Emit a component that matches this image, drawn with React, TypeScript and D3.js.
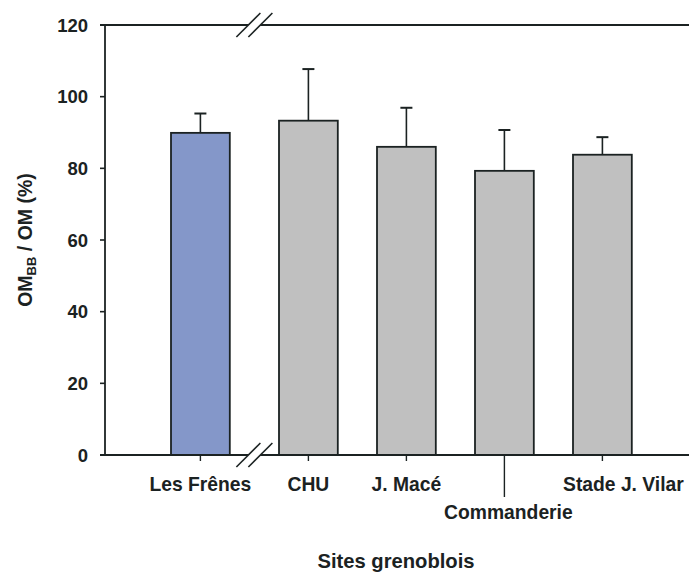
import React from "react";
import * as d3 from "d3";

const categories = ["Les Frênes", "CHU", "J. Macé", "Commanderie", "Stade J. Vilar"];
const means = [89.9, 93.3, 86.0, 79.3, 83.8];
const errors = [5.4, 14.4, 10.9, 11.4, 4.9];
const barColors = ["#8497c9", "#c0c0c0", "#c0c0c0", "#c0c0c0", "#c0c0c0"];
const yTicks = [0, 20, 40, 60, 80, 100, 120];

const W = 689;
const H = 572;
const left = 105;
const right = 689;
const top = 25;
const bottom = 455;
const breakGap = 10;
const font = "'Liberation Sans', Arial, sans-serif";
const ink = "#1b2222";

export default function App() {
  const y = d3.scaleLinear().domain([0, 120]).range([bottom, top]);
  const band = d3
    .scaleBand<string>()
    .domain(categories)
    .range([151.4, 151.4 + 490])
    .paddingInner(0.4)
    .paddingOuter(0.2);
  const bx = (c: string, i: number) => (band(c) as number) + (i >= 1 ? breakGap : 0);
  const bw = band.bandwidth();
  const cx = (c: string, i: number) => bx(c, i) + bw / 2;

  const brk = (bx(categories[0], 0) + bw + bx(categories[1], 1)) / 2;

  const labelDy = (i: number) => (categories[i] === "Commanderie" ? 64 : 36);
  const labelDx = (i: number) => (categories[i] === "Stade J. Vilar" ? 21 : categories[i] === "Commanderie" ? 4 : 0);

  const slash = (x: number, yy: number, off: number) => (
    <line x1={x - 12 + off} y1={yy + 12} x2={x + 12 + off} y2={yy - 12} stroke={ink} strokeWidth={1.6} />
  );

  return (
    <svg width={W} height={H} style={{ position: "absolute", left: 0, top: 0, background: "#fff" }}>
      {categories.map((c, i) => (
        <g key={c}>
          <line x1={cx(c, i)} x2={cx(c, i)} y1={y(means[i])} y2={y(means[i] + errors[i])} stroke={ink} strokeWidth={1.6} />
          <line x1={cx(c, i) - 6} x2={cx(c, i) + 6} y1={y(means[i] + errors[i])} y2={y(means[i] + errors[i])} stroke={ink} strokeWidth={2} />
          <rect x={bx(c, i)} y={y(means[i])} width={bw} height={bottom - y(means[i])} fill={barColors[i]} stroke={ink} strokeWidth={1.8} />
        </g>
      ))}
      <line x1={left} x2={left} y1={top} y2={bottom} stroke={ink} strokeWidth={1.8} />
      <line x1={left - 5} x2={right} y1={top} y2={top} stroke={ink} strokeWidth={1.8} />
      <line x1={left - 5} x2={right} y1={bottom} y2={bottom} stroke={ink} strokeWidth={1.8} />
      {yTicks.map((t) => (
        <g key={t}>
          <line x1={left - 5} x2={left} y1={y(t)} y2={y(t)} stroke={ink} strokeWidth={1.6} />
          <text x={88} y={y(t) + 6.5} textAnchor="end" fontFamily={font} fontWeight="bold" fontSize={18.5} fill={ink}>
            {t}
          </text>
        </g>
      ))}
      {categories.map((c, i) => (
        <g key={"t" + c}>
          <line
            x1={cx(c, i)}
            x2={cx(c, i)}
            y1={bottom}
            y2={bottom + (c === "Commanderie" ? 42 : 6)}
            stroke={ink}
            strokeWidth={1.4}
          />
          <text
            x={cx(c, i) + labelDx(i)}
            y={bottom + labelDy(i)}
            textAnchor="middle"
            fontFamily={font}
            fontWeight="bold"
            fontSize={19.3}
            fill={ink}
          >
            {c}
          </text>
        </g>
      ))}
      {[top, bottom].map((yy) => (
        <g key={"b" + yy}>
          <polygon
            points={`${brk - 12 - 6},${yy + 12} ${brk + 12 - 6},${yy - 12} ${brk + 12 + 6},${yy - 12} ${brk - 12 + 6},${yy + 12}`}
            fill="#fff"
          />
          {slash(brk, yy, -6)}
          {slash(brk, yy, 6)}
        </g>
      ))}
      <text x={396} y={568} textAnchor="middle" fontFamily={font} fontWeight="bold" fontSize={20.2} fill={ink}>
        Sites grenoblois
      </text>
      <text
        transform={`translate(32,240) rotate(-90)`}
        textAnchor="middle"
        fontFamily={font}
        fontWeight="bold"
        fontSize={19.5}
        fill={ink}
      >
        OM
        <tspan fontSize={13} dy={4}>BB</tspan>
        <tspan dy={-4}> / OM (%)</tspan>
      </text>
    </svg>
  );
}
